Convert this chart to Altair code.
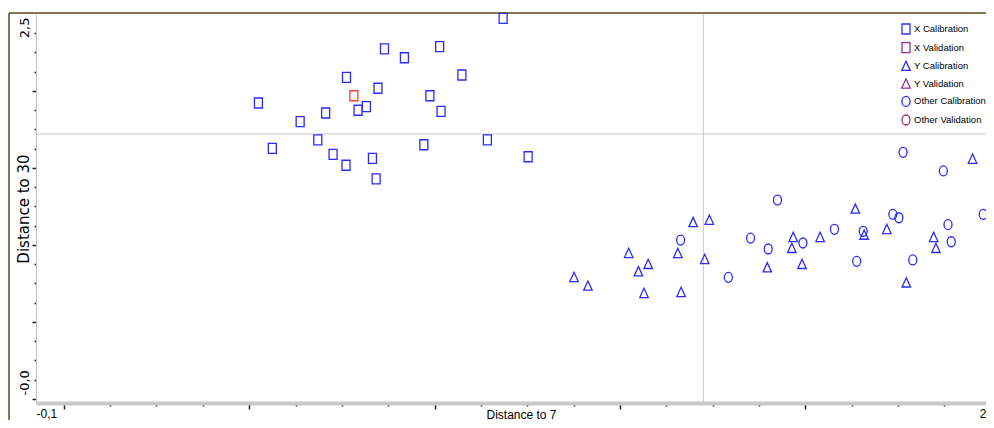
import altair as alt
import pandas as pd

# ---------------- data ----------------
series_names = ["X Calibration", "X Validation", "Y Calibration",
                "Y Validation", "Other Calibration", "Other Validation"]
series_colors = ["#2a2aff", "#962d96", "#2a2aff", "#962d96", "#2a2aff", "#962d96"]
highlight_color = "#ff3a3a"

x_cal_x = [0.420, 0.450, 0.510, 0.548, 0.565, 0.581, 0.610, 0.609, 0.635, 0.653,
           0.666, 0.674, 0.678, 0.692, 0.735, 0.777, 0.790, 0.811, 0.814, 0.859,
           0.914, 0.948, 1.002]
x_cal_y = [1.922, 1.628, 1.801, 1.682, 1.857, 1.589, 2.089, 1.518, 1.875, 1.898,
           1.563, 1.429, 2.018, 2.273, 2.216, 1.651, 1.969, 2.288, 1.868, 2.104,
           1.682, 2.472, 1.573]

x_val_x = [0.626]
x_val_y = [1.969]

y_cal_x = [1.101, 1.131, 1.219, 1.240, 1.261, 1.252, 1.325, 1.332, 1.358, 1.393,
           1.383, 1.518, 1.574, 1.571, 1.593, 1.632, 1.708, 1.727, 1.776, 1.818,
           1.877, 1.882, 1.961]
y_cal_y = [0.790, 0.734, 0.946, 0.827, 0.875, 0.686, 0.946, 0.693, 1.147, 1.162,
           0.907, 0.853, 1.050, 0.979, 0.875, 1.050, 1.234, 1.065, 1.102, 0.755,
           1.050, 0.979, 1.558]

other_cal_x = [1.331, 1.434, 1.482, 1.520, 1.540, 1.595, 1.663, 1.711, 1.725, 1.789,
               1.802, 1.811, 1.832, 1.898, 1.908, 1.915, 1.984]
other_cal_y = [1.032, 0.790, 1.045, 0.974, 1.292, 1.013, 1.102, 0.894, 1.089, 1.199,
               1.177, 1.602, 0.903, 1.481, 1.132, 1.021, 1.199]

ref_x = [1.380]
ref_y = [1.721]

x_domain = [-0.060, 1.990]
y_domain = [-0.026, 2.5]
x_ticks = [0.0, 0.1, 0.2, 0.3, 0.4, 0.5, 0.6, 0.7, 0.8, 0.9,
           1.0, 1.1, 1.2, 1.3, 1.4, 1.5, 1.6, 1.7, 1.8, 1.9]
x_major = [0.0, 0.4, 0.8, 1.2, 1.6]
y_ticks = [0.0, 0.125, 0.25, 0.375, 0.5, 0.625, 0.75, 0.875, 1.0, 1.125, 1.25,
           1.375, 1.5, 1.625, 1.75, 1.875, 2.0, 2.125, 2.25, 2.375]
y_major = [0.0, 0.5, 1.0, 1.5, 2.0]
x_end_labels = ["-0,1", "2"]
y_end_labels = ["-0,0", "2,5"]

x_title = "Distance to 7"
y_title = "Distance to 30"

# ---------------- styling ----------------
SANS = "Liberation Sans, Arial, sans-serif"
WIDE = "DejaVu Sans, sans-serif"
SQ = "M-0.8,-1H0.8V1H-0.8Z"
TRI = "M0,-1L0.85,0.85L-0.85,0.85Z"
CIR = "M0,-1A0.8,1,0,1,1,0,1A0.8,1,0,1,1,0,-1Z"
series_shapes = [SQ, SQ, TRI, TRI, CIR, CIR]

W, H = 950, 389

xmin, xmax = x_domain
ymin, ymax = y_domain

x_lab_test = f"datum.value == {xmin} || datum.value == {xmax}"
y_lab_test = f"datum.value == {ymin} || datum.value == {ymax}"

x_axis = alt.Axis(
    values=[xmin] + x_ticks + [xmax],
    labelExpr=f"datum.value == {xmin} ? '{x_end_labels[0]}' : datum.value == {xmax} ? '{x_end_labels[1]}' : ''",
    labelFlush=True, labelOverlap=False, labelBound=False,
    labelFont=SANS, labelFontSize=12, labelColor="#000000",
    labelBaseline="top", labelPadding=5,
    domainColor="#c8c8c8", domainWidth=4,
    tickColor="#222222", tickWidth=1.5,
    tickSize={"condition": [{"test": x_lab_test, "value": 0},
                            {"test": f"indexof({x_major}, datum.value) >= 0", "value": 6}],
              "value": 3},
    grid=False,
    title=x_title, titleFont=SANS, titleFontSize=12, titleFontWeight="normal",
    titleColor="#000000", titleBaseline="alphabetic", titleY=15, titleX=485,
)

y_axis = alt.Axis(
    values=[ymin] + y_ticks + [ymax],
    labelExpr=f"datum.value == {ymin} ? '{y_end_labels[0]}' : datum.value == {ymax} ? '{y_end_labels[1]}' : ''",
    labelFlush=False, labelOverlap=False, labelBound=False,
    labelFont=WIDE, labelFontSize=13, labelColor="#000000",
    labelAngle=270, labelBaseline="bottom", labelPadding=5,
    labelAlign={"condition": {"test": f"datum.value == {ymin}", "value": "left"}, "value": "right"},
    labelOffset={"condition": {"test": f"datum.value == {ymin}", "value": -8}, "value": 3},
    domainColor="#c0c0c0", domainWidth=1,
    tickColor="#222222", tickWidth=1.5,
    tickSize={"condition": [{"test": y_lab_test, "value": 0},
                            {"test": f"indexof({y_major}, datum.value) >= 0", "value": 4}],
              "value": 2},
    grid=False,
    title=y_title, titleFont=WIDE, titleFontSize=15, titleFontWeight="normal",
    titleColor="#000000", titleAngle=270, titleBaseline="alphabetic",
    titleX=-8, titleY=H / 2,
)

xscale = alt.Scale(domain=x_domain, nice=False, zero=False)
yscale = alt.Scale(domain=y_domain, nice=False, zero=False)

legend = alt.Legend(
    title=None, orient="none", legendX=864, legendY=9, padding=0,
    labelFont=SANS, labelFontSize=9.5, labelColor="#000000",
    symbolSize=100, symbolStrokeWidth=1.3, labelOffset=2, rowPadding=2.6,
    symbolFillColor="transparent",
)

# ---------------- frame ----------------
frame_df = pd.DataFrame({"k": [0]})
frame_top = alt.Chart(frame_df).mark_rule(color="#5a4a1e", strokeWidth=1.5).encode(
    x=alt.value(-27), x2=alt.value(W + 10), y=alt.value(-1))
frame_left = alt.Chart(frame_df).mark_rule(color="#5a4a1e", strokeWidth=1.5).encode(
    x=alt.value(-27), y=alt.value(-1), y2=alt.value(H + 40))

# ---------------- reference lines ----------------
vline = alt.Chart(pd.DataFrame({"x": ref_x})).mark_rule(color="#c8c8c8", strokeWidth=1).encode(
    x=alt.X("x:Q", scale=xscale, axis=x_axis))
hline = alt.Chart(pd.DataFrame({"y": ref_y})).mark_rule(color="#c8c8c8", strokeWidth=1).encode(
    y=alt.Y("y:Q", scale=yscale, axis=y_axis))

# ---------------- points ----------------
pts = pd.concat([
    pd.DataFrame({"x": x_cal_x, "y": x_cal_y, "series": "X Calibration"}),
    pd.DataFrame({"x": y_cal_x, "y": y_cal_y, "series": "Y Calibration"}),
    pd.DataFrame({"x": other_cal_x, "y": other_cal_y, "series": "Other Calibration"}),
], ignore_index=True)

points = alt.Chart(pts).mark_point(filled=False, size=100, strokeWidth=1.3, opacity=1).encode(
    x=alt.X("x:Q", scale=xscale, axis=x_axis),
    y=alt.Y("y:Q", scale=yscale, axis=y_axis),
    color=alt.Color("series:N", scale=alt.Scale(domain=series_names, range=series_colors), legend=legend),
    shape=alt.Shape("series:N", scale=alt.Scale(domain=series_names, range=series_shapes), legend=legend),
)

highlight = alt.Chart(pd.DataFrame({"x": x_val_x, "y": x_val_y})).mark_point(
    filled=False, size=100, strokeWidth=1.3, opacity=1, shape=SQ, color=highlight_color
).encode(
    x=alt.X("x:Q", scale=xscale, axis=x_axis),
    y=alt.Y("y:Q", scale=yscale, axis=y_axis),
)

chart = alt.layer(frame_top, frame_left, vline, hline, points, highlight).properties(
    width=W, height=H,
    autosize=alt.AutoSizeParams(type="none"),
    padding={"left": 28, "top": 6, "right": 0, "bottom": 17},
    background="#ffffff",
).configure_view(stroke=None)

chart.save("out.html", embed_options={"renderer": "svg", "actions": False})
